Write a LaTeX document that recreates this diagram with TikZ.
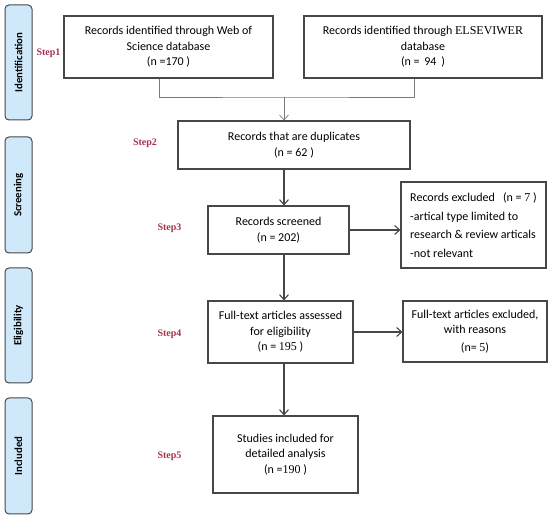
\documentclass[tikz,border=0pt]{standalone}
\usepackage{fontspec}
\setmainfont{Carlito}
\newfontfamily\timesfont{Liberation Serif}
\usetikzlibrary{arrows.meta}
\definecolor{boxline}{HTML}{474747}
\definecolor{mergeline}{HTML}{7A7A7A}
\definecolor{barfill}{HTML}{CFE9FB}
\definecolor{steptext}{HTML}{A8324E}
\begin{document}
\begin{tikzpicture}[x=1pt,y=-1pt,
  box/.style={draw=boxline,line width=1.1pt,align=center,inner sep=0pt,font=\fontsize{12}{15.5}\selectfont},
  phase/.style={draw=boxline,fill=barfill,rounded corners=4pt,line width=1pt,inner sep=0pt,
    rotate=90,minimum height=27pt,font=\bfseries\fontsize{10.8}{12}\selectfont},
  steplabel/.style={text=steptext,font=\timesfont\bfseries\fontsize{10}{12}\selectfont},
  flow/.style={-{Straight Barb[length=5pt,width=9pt]},draw=boxline,line width=1.1pt},
  merge/.style={draw=mergeline,line width=0.7pt}]
  \useasboundingbox (0,0) rectangle (550,518);

  % phases on the left
  \node[phase,minimum width=115pt] (ident) at (18.5,62.5) {Identification};
  \node[phase,minimum width=116pt] (screen) at (18.5,195) {Screening};
  \node[phase,minimum width=115pt] (elig) at (18.5,325.5) {Eligibility};
  \node[phase,minimum width=116pt] (incl) at (18.5,456) {Included};

  \node[steplabel] (step1) at (48.5,53) {Step1};
  \node[steplabel] (step2) at (145,143) {Step2};
  \node[steplabel] (step3) at (169.5,228) {Step3};
  \node[steplabel] (step4) at (169.5,334) {Step4};
  \node[steplabel] (step5) at (169.5,456) {Step5};

  \node[box,minimum width=209pt,minimum height=62pt] (wos) at (168.5,47)
    {Records identified through Web of\\Science database\\(n =170 )};
  \node[box,minimum width=238pt,minimum height=62pt] (els) at (423,47)
    {Records identified through {\timesfont ELSEVIWER}\\database\\(n = \,94 \,)};
  \node[box,minimum width=232pt,minimum height=48pt] (dup) at (294,145)
    {Records that are duplicates\\(n = 62 )};
  \node[box,minimum width=141pt,minimum height=48pt] (screened) at (278.5,230)
    {Records screened\\(n = 202)};
  \node[box,align=left,minimum width=145pt,minimum height=86pt,font=\fontsize{12}{18.5}\selectfont] (excl) at (473.5,225)
    {Records excluded \ \ (n = {\timesfont 7} )\\-artical type limited to\\research \& review articals\\-not relevant};
  \node[box,minimum width=145pt,minimum height=62pt] (fulltext) at (280.5,332)
    {Full-text articles assessed\\for eligibility\\(n = {\timesfont 195} )};
  \node[box,minimum width=144pt,minimum height=61pt] (excl2) at (475,331.5)
    {Full-text articles excluded,\\with reasons\\[2pt](n= {\timesfont 5})};
  \node[box,minimum width=145pt,minimum height=77pt] (studies) at (285.5,454.5)
    {Studies included for\\detailed analysis\\(n ={\timesfont 190} )};

  \coordinate (spine) at (284,97);
  \draw[merge] ([xshift=-9pt]wos.south) |- (spine) -| ([xshift=-9pt]els.south);
  \draw[merge,-{Straight Barb[length=5pt,width=9pt]}] (spine) -- (spine |- dup.north);
  \draw[flow] (dup.south -| spine) -- (screened.north -| spine);
  \draw[flow] (screened.south -| spine) -- (fulltext.north -| spine);
  \draw[flow] (fulltext.south -| spine) -- (studies.north -| spine);
  \draw[flow] (screened.east) -- (screened.east -| excl.west);
  \draw[flow] (fulltext.east) -- (fulltext.east -| excl2.west);
\end{tikzpicture}
\end{document}
